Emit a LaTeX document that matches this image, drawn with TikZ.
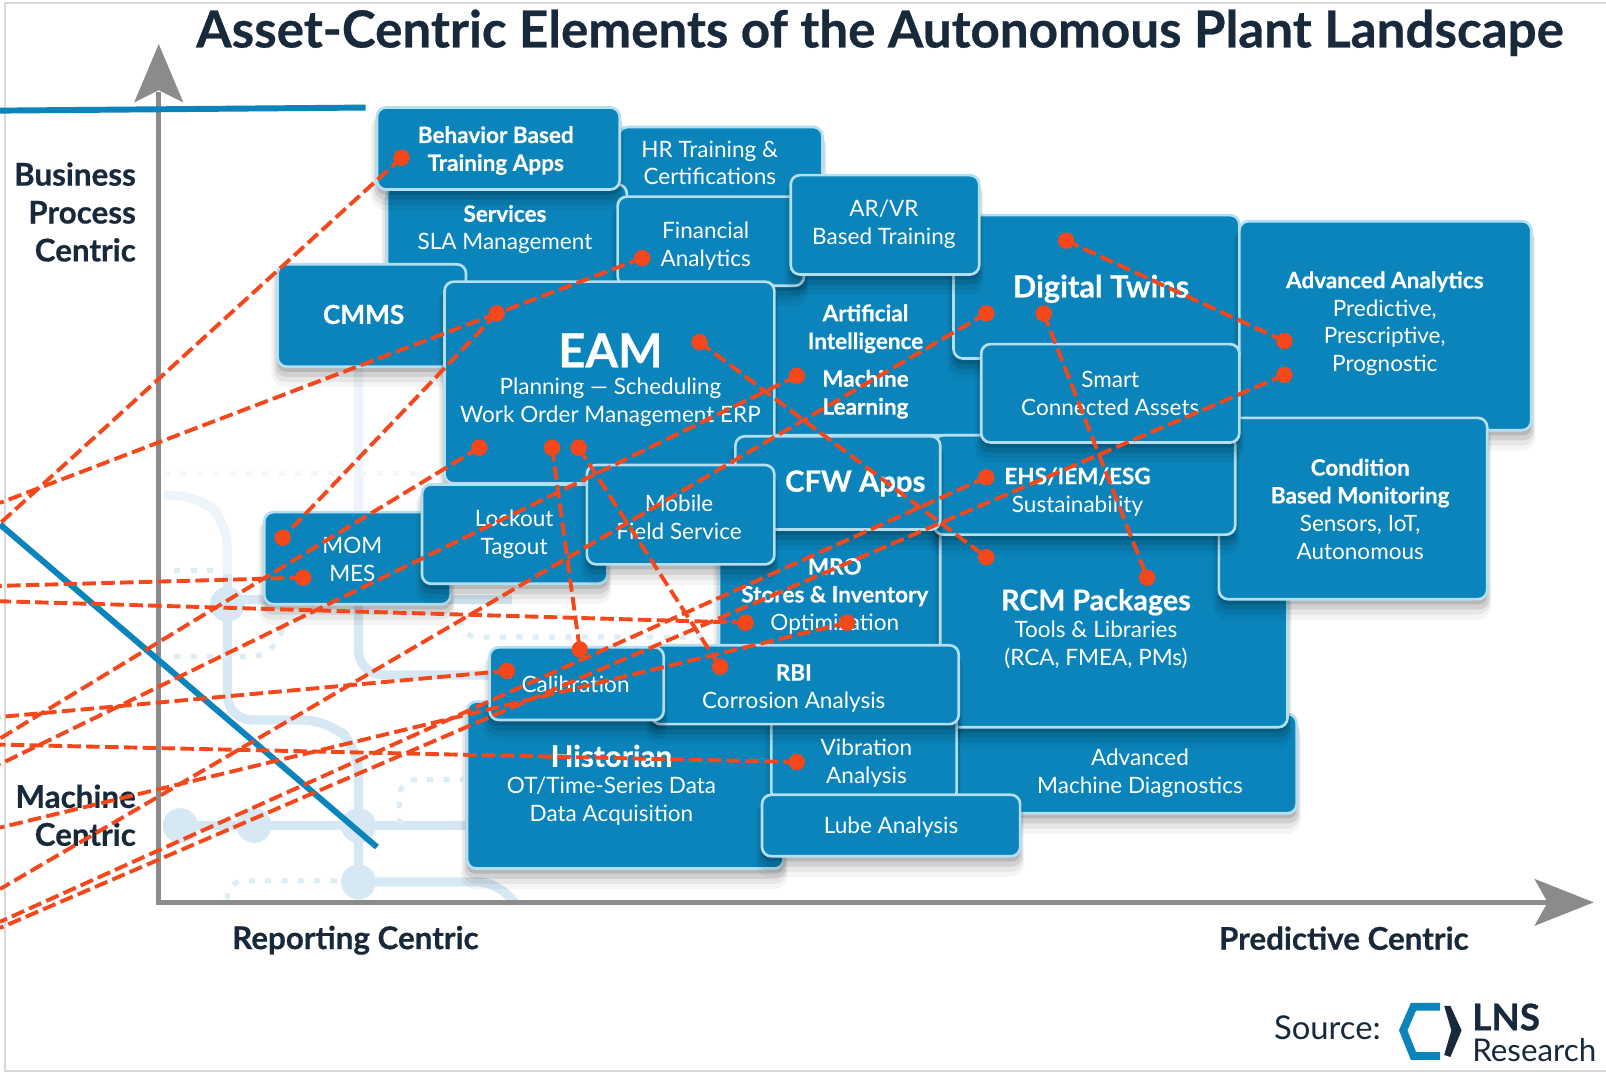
\documentclass[tikz,border=0pt]{standalone}
\usepackage{fontspec}
\setmainfont{Lato}[BoldFeatures={FakeBold=0.5}]
\usetikzlibrary{calc}
\definecolor{blockblue}{HTML}{0A84BA}
\definecolor{blockedge}{HTML}{B4DFF2}
\definecolor{linkred}{HTML}{F4481C}
\definecolor{inkdark}{HTML}{17293A}
\definecolor{axisgray}{HTML}{8B8B8B}
\definecolor{ghost}{HTML}{D6E8F3}
\definecolor{framegray}{HTML}{D8D8D8}
\tikzset{
  blockbox/.style={draw=blockedge,fill=blockblue,line width=1.3pt,rounded corners=4.5pt,inner sep=0pt,outer sep=0pt},
  wt/.style={text=white,align=center,inner sep=0pt,yshift=-1pt,font=\fontsize{11}{13.6}\selectfont},
  dk/.style={text=inkdark,inner sep=0pt,font=\fontsize{15.3}{18.5}\selectfont\bfseries},
  dotmark/.style={circle,fill=linkred,minimum size=8pt,inner sep=0pt,outer sep=0pt},
  linkline/.style={draw=linkred,line width=1.9pt,dash pattern=on 6.6pt off 2.6pt},
  ghostline/.style={draw=ghost,line width=4.5pt,rounded corners=12pt},
  ghostdots/.style={draw=ghost!80,line width=2.5pt,dash pattern=on 3pt off 5pt,rounded corners=8pt},
  ghostdot/.style={circle,fill=ghost,minimum size=17pt,inner sep=0pt},
  topline/.style={draw=blockblue,line width=2.9pt}
}
\newcommand\plantbox[5]{%
  \pgfmathsetmacro\bw{(#4-#2)*0.5}%
  \pgfmathsetmacro\bh{(#5-#3)*0.5}%
  \fill[black,opacity=.04,rounded corners=7pt] (#2-6,#3+6) rectangle (#4+4,#5+20);
  \fill[black,opacity=.06,rounded corners=6pt] (#2-4,#3+6) rectangle (#4+3,#5+15);
  \fill[black,opacity=.09,rounded corners=5pt] (#2-2,#3+5) rectangle (#4+2,#5+10);
  \fill[black,opacity=.12,rounded corners=4pt] (#2,#3+4) rectangle (#4,#5+5);
  \node[blockbox,minimum width=\bw pt,minimum height=\bh pt] (#1) at ({(#2+#4)/2},{(#3+#5)/2}) {};
}
\begin{document}
\begin{tikzpicture}[x=0.5pt,y=-0.5pt]
\useasboundingbox (0,0) rectangle (1568,1048.6);
\fill[white] (0,0) rectangle (1568,1048.6);
\draw[framegray,line width=1pt] (1568,3) -- (5,3) -- (5,1046) -- (1568,1046);
% faint background circuit
\draw[ghostline] (160,484) -- (195,484) -- (222,510) -- (222,703) -- (320,703) -- (350,730) -- (350,878);
\draw[ghostline] (350,357) -- (350,659) -- (480,659);
\draw[ghostline] (222,585) -- (500,585);
\draw[ghostline] (175,806) -- (456,806);
\draw[ghostline] (350,861) -- (490,861) -- (500,878);
\draw[ghostdots] (160,462) -- (415,462);
\fill[white,opacity=.6] (157,350) rectangle (430,560);
\draw[ghostdots] (170,557) -- (210,557);
\draw[ghostdots] (170,641) -- (262,641) -- (276,615);
\draw[ghostdots] (450,605) -- (450,622) -- (695,622);
\draw[ghostdots] (390,805) -- (390,761) -- (452,761);
\draw[ghostdots] (222,878) -- (222,860) -- (340,860);
\node[ghostdot] (g1) at (176,806) {};
\node[ghostdot] (g2) at (248,806) {};
\node[ghostdot] (g3) at (350,806) {};
\node[ghostdot] (g4) at (350,861) {};
\node[ghostdot] (g5) at (222,590) {};
% axes
\coordinate (axo) at (155,881);
\coordinate (axy) at (155,90);
\coordinate (axx) at (1512,881);
\draw[axisgray,line width=2.6pt] (axy) -- (axo) -- (axx);
\fill[axisgray] (155,43) -- (179,100) -- (155,88) -- (131,100) -- cycle;
\fill[axisgray] (1556,881) -- (1498,904) -- (1511,881) -- (1498,858) -- cycle;
% blocks, back to front
\plantbox{hr}{604}{124}{803}{205}
\plantbox{services}{378}{180}{612}{278}
\plantbox{behavior}{368}{105}{605}{185}
\plantbox{cmms}{271}{258}{455}{358}
\plantbox{aiml}{740}{262}{965}{425}
\plantbox{twins}{931}{210}{1210}{350}
\plantbox{financial}{603}{192}{785}{279}
\plantbox{arvr}{772}{171}{956}{268}
\plantbox{eam}{434}{275}{756}{472}
\plantbox{analytics}{1210}{216}{1495}{420}
\plantbox{advdiag}{900}{697}{1266}{794}
\plantbox{mro}{702}{500}{918}{645}
\plantbox{rcm}{918}{505}{1257}{710}
\plantbox{condition}{1190}{408}{1452}{585}
\plantbox{ehs}{912}{425}{1206}{522}
\plantbox{smart}{958}{336}{1210}{432}
\plantbox{cfw}{718}{426}{918}{517}
\plantbox{mom}{258}{500}{440}{590}
\plantbox{lockout}{412}{473}{593}{570}
\plantbox{mobile}{573}{454}{756}{551}
\plantbox{historian}{456}{685}{765}{848}
\plantbox{vibration}{753}{690}{934}{782}
\plantbox{rbi}{636}{630}{936}{707}
\plantbox{calibration}{478}{632}{648}{703}
\plantbox{lube}{744}{776}{996}{836}
% block text
\node[wt] (thr) at (693,157) {HR Training \&\\Certifications};
\node[wt] (tbeh) at (484,145) {\textbf{Behavior Based}\\\textbf{Training Apps}};
\node[wt] (tserv) at (493,222) {\textbf{Services}\\SLA Management};
\node[wt] (tfin) at (689,238) {Financial\\Analytics};
\node[wt] (tar) at (863,217) {AR/VR\\Based Training};
\node[wt,font=\fontsize{12.8}{16}\selectfont\bfseries] (tcmms) at (355,305) {CMMS};
\node[wt,font=\fontsize{23}{28}\selectfont\bfseries] (team) at (596,340) {EAM};
\node[wt] (team2) at (596,391) {Planning — Scheduling\\Work Order Management ERP};
\node[wt] (tai) at (845,319) {\textbf{Artificial}\\\textbf{Intelligence}};
\node[wt] (tml) at (845,383) {\textbf{Machine}\\\textbf{Learning}};
\node[wt,font=\fontsize{15}{18}\selectfont\bfseries] (ttw) at (1075,280) {Digital Twins};
\node[wt] (taa) at (1352,314) {\textbf{Advanced Analytics}\\Predictive,\\Prescriptive,\\Prognostic};
\node[wt] (tsm) at (1084,382) {Smart\\Connected Assets};
\node[wt,font=\fontsize{14.3}{18}\selectfont\bfseries] (tcfw) at (835,470) {CFW Apps};
\node[wt] (tehs) at (1052,478) {\textbf{EHS/IEM/ESG}\\Sustainability};
\node[wt] (tcond) at (1328,495) {\textbf{Condition}\\\textbf{Based Monitoring}\\Sensors, IoT,\\Autonomous};
\node[wt,font=\fontsize{14}{17}\selectfont\bfseries] (trcm) at (1070,586) {RCM Packages};
\node[wt] (trcm2) at (1070,628) {Tools \& Libraries\\(RCA, FMEA, PMs)};
\node[wt] (tmro) at (815,580) {\textbf{MRO}\\\textbf{Stores \& Inventory}\\Optimization};
\node[wt] (tmob) at (663,503) {Mobile\\Field Service};
\node[wt] (tlock) at (502,520) {Lockout\\Tagout};
\node[wt] (tmom) at (344,544) {MOM\\MES};
\node[wt] (tcal) at (562,666) {Calibration};
\node[wt] (trbi) at (775,670) {\textbf{RBI}\\Corrosion Analysis};
\node[wt,font=\fontsize{14.5}{17}\selectfont\bfseries] (this) at (597,736) {Historian};
\node[wt] (this2) at (597,780) {OT/Time-Series Data\\Data Acquisition};
\node[wt] (tadv) at (1113,753) {Advanced\\Machine Diagnostics};
\node[wt] (tvib) at (846,743) {Vibration\\Analysis};
\node[wt] (tlube) at (870,806) {Lube Analysis};
% outer labels
\node[inkdark,inner sep=0pt,font=\fontsize{24.95}{28}\selectfont\bfseries] (title) at (859,32) {Asset-Centric Elements of the Autonomous Plant Landscape};
\node[dk,align=right,anchor=east] (lbiz) at (133,207) {Business\\Process\\Centric};
\node[dk,align=right,anchor=east] (lmach) at (133,796) {Machine\\Centric};
\node[dk] (lrep) at (347,918) {Reporting Centric};
\node[dk] (lpred) at (1312,916) {Predictive Centric};
\node[text=inkdark,inner sep=0pt,font=\fontsize{16}{19}\selectfont] (lsrc) at (1296,1003) {Source:};
\draw[blockblue,line width=3.8pt,line join=miter] (1406,983) -- (1380,983) -- (1370,1006) -- (1380,1031) -- (1406,1031);
\fill[inkdark] (1410,982) -- (1416,982) -- (1427,1006) -- (1416,1032) -- (1410,1030) -- (1417,1006) -- cycle;
\node[text=inkdark,inner sep=0pt,anchor=west,font=\fontsize{18}{20}\selectfont\bfseries] (llns) at (1437,993) {LNS};
\node[text=inkdark,inner sep=0pt,anchor=west,font=\fontsize{15.3}{17}\selectfont] (lres) at (1437,1025) {Research};
% overlaid blue lines
\coordinate (b1) at (0,108);
\coordinate (b2) at (357,105);
\coordinate (b3) at (0,512);
\coordinate (b4) at (368,827);
\draw[topline] (b1) -- (b2);
\draw[topline] (b3) -- (b4);
% dots
\node[dotmark] (a) at (392,154) {};
\node[dotmark] (b) at (627,252) {};
\node[dotmark] (c) at (485,306) {};
\node[dotmark] (d) at (683,334) {};
\node[dotmark] (e) at (468,437) {};
\node[dotmark] (f) at (539,437) {};
\node[dotmark] (g) at (565,437) {};
\node[dotmark] (h) at (778,367) {};
\node[dotmark] (i) at (963,306) {};
\node[dotmark] (j) at (1019,306) {};
\node[dotmark] (k) at (1041,235) {};
\node[dotmark] (l) at (1254,333) {};
\node[dotmark] (m) at (1254,366) {};
\node[dotmark] (n) at (963,466) {};
\node[dotmark] (o) at (963,544) {};
\node[dotmark] (p) at (1120,564) {};
\node[dotmark] (q) at (276,525) {};
\node[dotmark] (r) at (296,564) {};
\node[dotmark] (s) at (728,608) {};
\node[dotmark] (t) at (827,608) {};
\node[dotmark] (u) at (566,634) {};
\node[dotmark] (v) at (495,655) {};
\node[dotmark] (w) at (703,651) {};
\node[dotmark] (xx) at (778,744) {};
% free ends on the left edge
\coordinate (ea) at (0,511);
\coordinate (ec) at (0,491);
\coordinate (ee) at (0,721);
\coordinate (eh) at (0,746);
\coordinate (ei) at (0,868);
\coordinate (en) at (0,900);
\coordinate (em) at (0,906);
\coordinate (et) at (0,808);
\coordinate (es) at (0,587);
\coordinate (er) at (0,572);
\coordinate (ev) at (0,700);
\coordinate (ex) at (0,727);
% connectors
\draw[linkline] (k.center) -- (l.center);
\draw[linkline] (d.center) -- (o.center);
\draw[linkline] (j.center) -- (p.center);
\draw[linkline] (f.center) -- (u.center);
\draw[linkline] (g.center) -- (w.center);
\draw[linkline] (c.center) -- (q.center);
\draw[linkline] (b.center) -- (c.center);
\draw[linkline] (c.center) -- (ec);
\draw[linkline] (a.center) -- (ea);
\draw[linkline] (e.center) -- (ee);
\draw[linkline] (h.center) -- (eh);
\draw[linkline] (i.center) -- (ei);
\draw[linkline] (n.center) -- (en);
\draw[linkline] (m.center) -- (em);
\draw[linkline] (t.center) -- (et);
\draw[linkline] (s.center) -- (es);
\draw[linkline] (r.center) -- (er);
\draw[linkline] (v.center) -- (ev);
\draw[linkline] (xx.center) -- (ex);
\end{tikzpicture}
\end{document}
